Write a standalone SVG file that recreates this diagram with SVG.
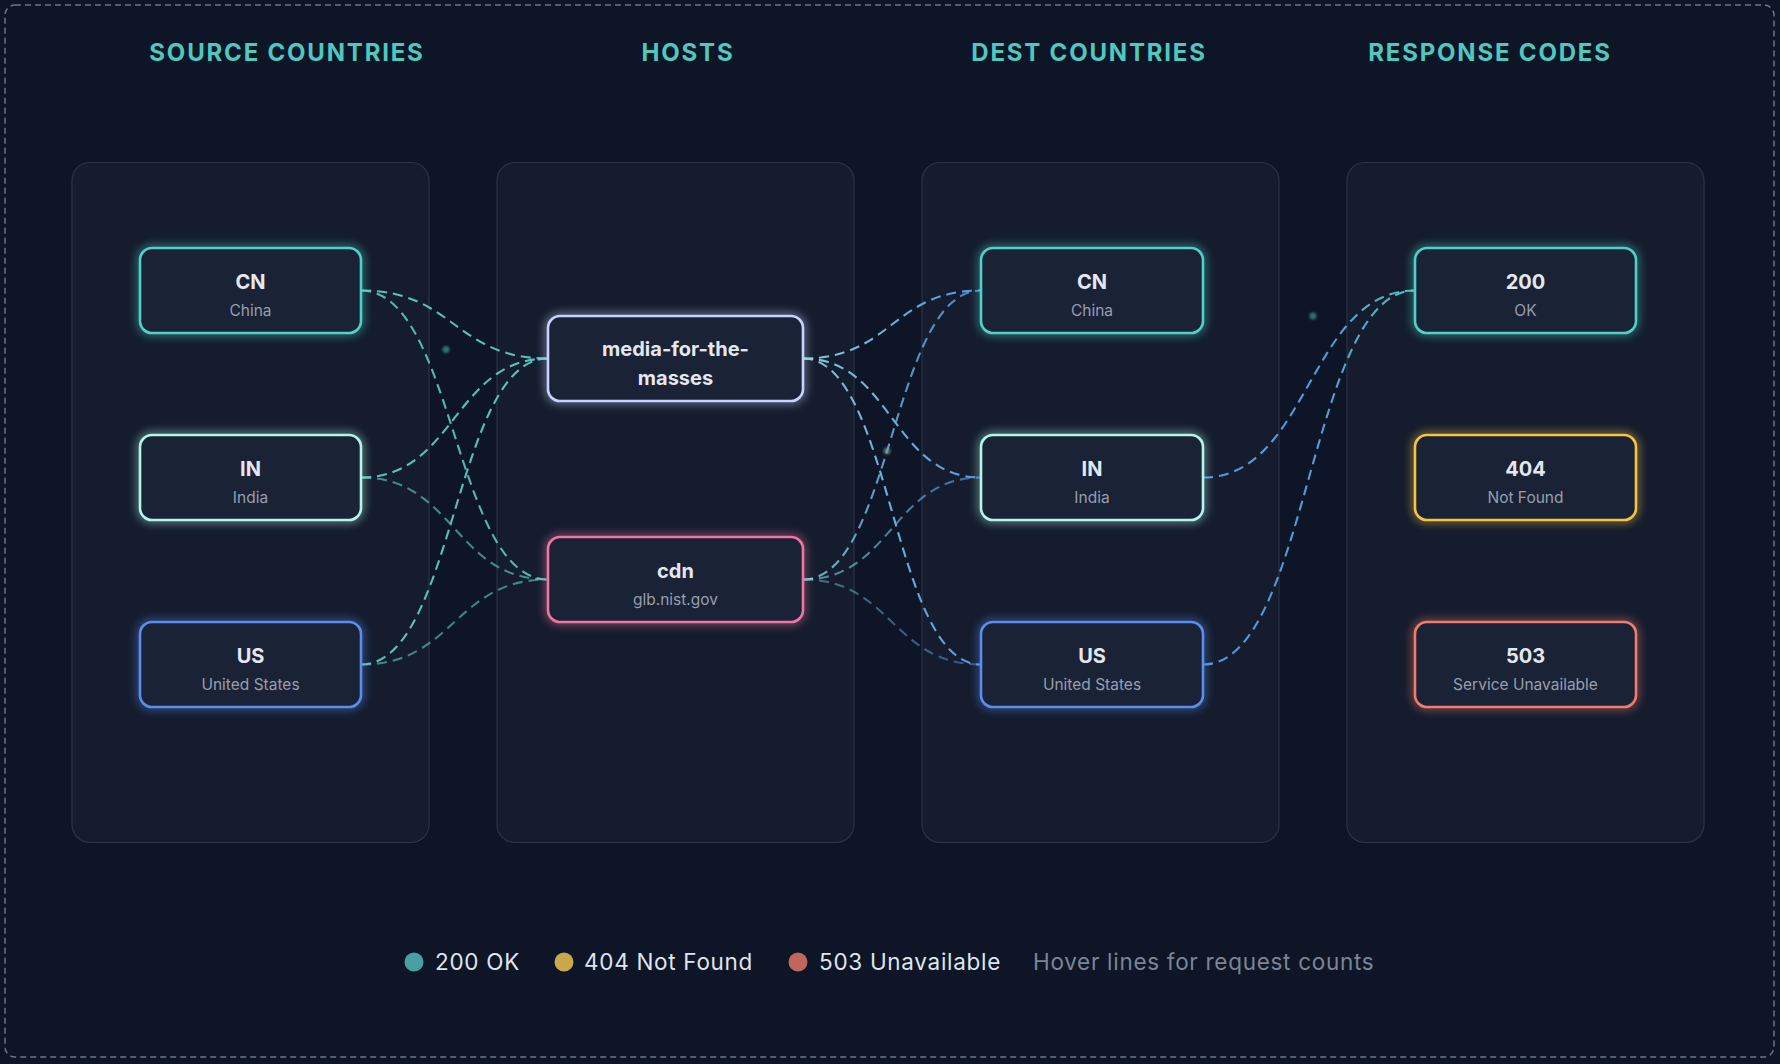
<svg xmlns="http://www.w3.org/2000/svg" width="1780" height="1064" viewBox="0 0 1780 1064">
  <defs>
    <style>
      .title { font-family: Inter, "Liberation Sans", sans-serif; font-size: 24px; font-weight: 700; fill: #4fc9bf; letter-spacing: 1.8px; text-anchor: middle; }
      .panel { fill: #141c2d; stroke: #2a3446; stroke-width: 1.2; }
      .box { fill: #1a2235; stroke-width: 2.6; }
      .glow { fill: none; stroke-width: 4; opacity: 0.8; filter: url(#blur); }
      .nt { font-family: Inter, "Liberation Sans", sans-serif; font-size: 20px; font-weight: 700; fill: #e3e8f0; text-anchor: middle; }
      .ns { font-family: Inter, "Liberation Sans", sans-serif; font-size: 15.5px; font-weight: 400; fill: #959fb0; text-anchor: middle; }
      .edge { fill: none; stroke-width: 2.1; stroke-dasharray: 10 6; }
      .e1 { stroke: #5fd4c8; }
      .e2 { stroke: url(#g2); }
      .e3 { stroke: url(#g3); }
      .leg { font-family: Inter, "Liberation Sans", sans-serif; font-size: 22.5px; letter-spacing: 0.7px; fill: #dfe5ee; }
      .hint { font-family: Inter, "Liberation Sans", sans-serif; font-size: 22.5px; letter-spacing: 0.7px; fill: #7b8595; }
    </style>
    <filter id="blur" x="-30%" y="-60%" width="160%" height="220%">
      <feGaussianBlur stdDeviation="5"/>
    </filter>
    <filter id="soft" x="-100%" y="-100%" width="300%" height="300%">
      <feGaussianBlur stdDeviation="0.8"/>
    </filter>
    <linearGradient id="g2" x1="0" y1="0" x2="1" y2="0">
      <stop offset="0" stop-color="#8ad8de"/>
      <stop offset="1" stop-color="#5b9ff0"/>
    </linearGradient>
    <linearGradient id="g3" x1="0" y1="0" x2="1" y2="0">
      <stop offset="0" stop-color="#5aa0ec"/>
      <stop offset="0.55" stop-color="#5aa6e6"/>
      <stop offset="1" stop-color="#4fcfc4"/>
    </linearGradient>
  </defs>

  <rect x="0" y="0" width="1780" height="1064" fill="#0d1526"/>
  <rect x="5" y="5" width="1769" height="1052" rx="10" fill="none" stroke="#66758c" stroke-width="1.5" stroke-dasharray="6 4"/>

  <g id="titles">
    <text class="title" x="287" y="61">SOURCE COUNTRIES</text>
    <text class="title" x="688" y="61">HOSTS</text>
    <text class="title" x="1089" y="61">DEST COUNTRIES</text>
    <text class="title" x="1490" y="61">RESPONSE CODES</text>
  </g>

  <g id="panels">
    <rect class="panel" x="72" y="162.5" width="357" height="680" rx="18"/>
    <rect class="panel" x="497" y="162.5" width="357" height="680" rx="18"/>
    <rect class="panel" x="922" y="162.5" width="357" height="680" rx="18"/>
    <rect class="panel" x="1347" y="162.5" width="357" height="680" rx="18"/>
  </g>

  <g id="connectors">
    <path class="edge e1" opacity="0.9" d="M361,290.5 C454.5,290.5 454.5,358.5 548,358.5"/>
    <path class="edge e1" opacity="0.85" d="M361,290.5 C454.5,290.5 454.5,579.5 548,579.5"/>
    <path class="edge e1" opacity="0.9" d="M361,477.5 C454.5,477.5 454.5,358.5 548,358.5"/>
    <path class="edge e1" opacity="0.62" d="M361,477.5 C454.5,477.5 454.5,579.5 548,579.5"/>
    <path class="edge e1" opacity="0.9" d="M361,664.5 C454.5,664.5 454.5,358.5 548,358.5"/>
    <path class="edge e1" opacity="0.58" d="M361,664.5 C454.5,664.5 454.5,579.5 548,579.5"/>

    <path class="edge e2" opacity="0.92" d="M803,358.5 C892,358.5 892,290.5 981,290.5"/>
    <path class="edge e2" opacity="0.92" d="M803,358.5 C892,358.5 892,477.5 981,477.5"/>
    <path class="edge e2" opacity="0.92" d="M803,358.5 C892,358.5 892,664.5 981,664.5"/>
    <path class="edge e2" opacity="0.78" d="M803,579.5 C892,579.5 892,290.5 981,290.5"/>
    <path class="edge e2" opacity="0.62" d="M803,579.5 C892,579.5 892,477.5 981,477.5"/>
    <path class="edge e2" opacity="0.45" d="M803,579.5 C892,579.5 892,664.5 981,664.5"/>

    <path class="edge e3" opacity="0.92" d="M1203,477.5 C1309,477.5 1309,290.5 1415,290.5"/>
    <path class="edge e3" opacity="0.92" d="M1203,664.5 C1309,664.5 1309,290.5 1415,290.5"/>

    <circle cx="446" cy="349.5" r="3.5" fill="#2f766f" filter="url(#soft)"/>
    <circle cx="887" cy="451" r="3.5" fill="#86a6a8" opacity="0.6" filter="url(#soft)"/>
    <circle cx="1313" cy="316" r="3.5" fill="#2f726d" filter="url(#soft)"/>
  </g>

  <g id="src-cn">
    <rect class="glow" x="140" y="248" width="221" height="85" rx="12" stroke="#4fd1c5"/>
    <rect class="box" x="140" y="248" width="221" height="85" rx="12" stroke="#4fd1c5"/>
    <text class="nt" x="250.5" y="288.5">CN</text>
    <text class="ns" x="250.5" y="316">China</text>
  </g>
  <g id="src-in">
    <rect class="glow" x="140" y="435" width="221" height="85" rx="12" stroke="#b2f5ea"/>
    <rect class="box" x="140" y="435" width="221" height="85" rx="12" stroke="#b2f5ea"/>
    <text class="nt" x="250.5" y="475.5">IN</text>
    <text class="ns" x="250.5" y="503">India</text>
  </g>
  <g id="src-us">
    <rect class="glow" x="140" y="622" width="221" height="85" rx="12" stroke="#5b8def"/>
    <rect class="box" x="140" y="622" width="221" height="85" rx="12" stroke="#5b8def"/>
    <text class="nt" x="250.5" y="662.5">US</text>
    <text class="ns" x="250.5" y="690">United States</text>
  </g>

  <g id="host-media">
    <rect class="glow" x="548" y="316" width="255" height="85" rx="12" stroke="#c7d2fe"/>
    <rect class="box" x="548" y="316" width="255" height="85" rx="12" stroke="#c7d2fe"/>
    <text class="nt" x="675.5" y="356">media-for-the-</text>
    <text class="nt" x="675.5" y="384.5">masses</text>
  </g>
  <g id="host-cdn">
    <rect class="glow" x="548" y="537" width="255" height="85" rx="12" stroke="#ee76a3"/>
    <rect class="box" x="548" y="537" width="255" height="85" rx="12" stroke="#ee76a3"/>
    <text class="nt" x="675.5" y="577.5">cdn</text>
    <text class="ns" x="675.5" y="605">glb.nist.gov</text>
  </g>

  <g id="dst-cn">
    <rect class="glow" x="981" y="248" width="222" height="85" rx="12" stroke="#4fd1c5"/>
    <rect class="box" x="981" y="248" width="222" height="85" rx="12" stroke="#4fd1c5"/>
    <text class="nt" x="1092" y="288.5">CN</text>
    <text class="ns" x="1092" y="316">China</text>
  </g>
  <g id="dst-in">
    <rect class="glow" x="981" y="435" width="222" height="85" rx="12" stroke="#b2f5ea"/>
    <rect class="box" x="981" y="435" width="222" height="85" rx="12" stroke="#b2f5ea"/>
    <text class="nt" x="1092" y="475.5">IN</text>
    <text class="ns" x="1092" y="503">India</text>
  </g>
  <g id="dst-us">
    <rect class="glow" x="981" y="622" width="222" height="85" rx="12" stroke="#5b8def"/>
    <rect class="box" x="981" y="622" width="222" height="85" rx="12" stroke="#5b8def"/>
    <text class="nt" x="1092" y="662.5">US</text>
    <text class="ns" x="1092" y="690">United States</text>
  </g>

  <g id="code-200">
    <rect class="glow" x="1415" y="248" width="221" height="85" rx="12" stroke="#4fd1c5"/>
    <rect class="box" x="1415" y="248" width="221" height="85" rx="12" stroke="#4fd1c5"/>
    <text class="nt" x="1525.5" y="288.5">200</text>
    <text class="ns" x="1525.5" y="316">OK</text>
  </g>
  <g id="code-404">
    <rect class="glow" x="1415" y="435" width="221" height="85" rx="12" stroke="#f6c443"/>
    <rect class="box" x="1415" y="435" width="221" height="85" rx="12" stroke="#f6c443"/>
    <text class="nt" x="1525.5" y="475.5">404</text>
    <text class="ns" x="1525.5" y="503">Not Found</text>
  </g>
  <g id="code-503">
    <rect class="glow" x="1415" y="622" width="221" height="85" rx="12" stroke="#f27b6b"/>
    <rect class="box" x="1415" y="622" width="221" height="85" rx="12" stroke="#f27b6b"/>
    <text class="nt" x="1525.5" y="662.5">503</text>
    <text class="ns" x="1525.5" y="690">Service Unavailable</text>
  </g>

  <g id="legend">
    <circle cx="414" cy="962" r="9.5" fill="#4a9fa0"/>
    <text class="leg" x="435" y="969.5">200 OK</text>
    <circle cx="564" cy="962" r="9.5" fill="#c9a84c"/>
    <text class="leg" x="584" y="969.5">404 Not Found</text>
    <circle cx="798" cy="962" r="9.5" fill="#c0665e"/>
    <text class="leg" x="819" y="969.5">503 Unavailable</text>
    <text class="hint" x="1033" y="969.5">Hover lines for request counts</text>
  </g>
</svg>
